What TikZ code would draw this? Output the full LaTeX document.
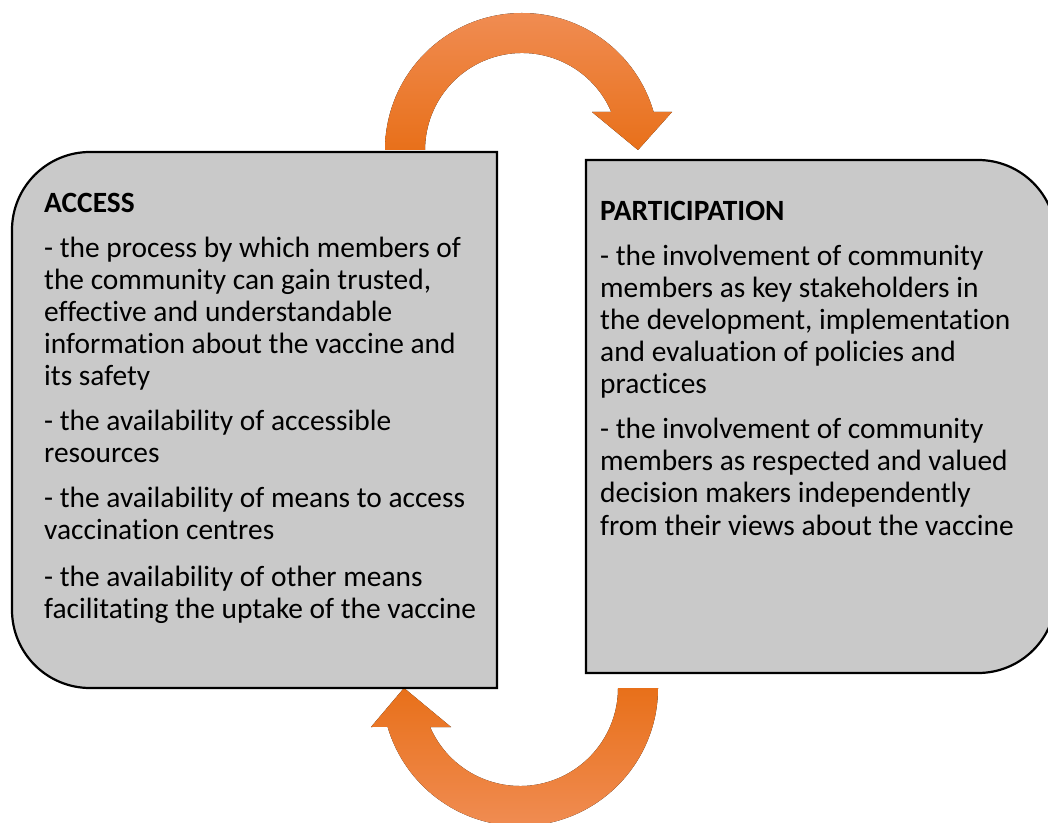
\documentclass[tikz,border=0pt]{standalone}
\usepackage{fontspec}
\setmainfont{Carlito}[Ligatures={NoCommon}]
\begin{document}
\begin{tikzpicture}[x=1pt,y=1pt,
  panel/.style={fill={rgb,255:red,201;green,201;blue,201}, draw=black, line width=2.2pt, line join=miter},
  loop/.style={top color={rgb,255:red,240;green,140;blue,82}, bottom color={rgb,255:red,232;green,112;blue,26}, draw=none},
  loopup/.style={top color={rgb,255:red,232;green,112;blue,26}, bottom color={rgb,255:red,240;green,140;blue,82}, draw=none},
  heading/.style={anchor=base west, inner sep=0pt, font=\fontsize{29.4}{32}\selectfont\bfseries},
  line/.style={anchor=base west, inner sep=0pt, font=\fontsize{29.4}{32}\selectfont}]
\useasboundingbox (0,0) rectangle (1048,822);
\clip (0,0) rectangle (1048,822);

% curved arrow from ACCESS over to PARTICIPATION
\fill[loop] (385,672) arc[start angle=180, end angle=16.11, radius=137]
  -- (672,710) -- (638,672) -- (592,710) -- (611.3,710)
  arc[start angle=23.06, end angle=180, radius=97] -- cycle;

% curved arrow from PARTICIPATION back to ACCESS
\fill[loopup] (658,134) arc[start angle=0, end angle=-163.6, radius=138]
  -- (371,95) -- (404,134) -- (451,95) -- (430.1,95)
  arc[start angle=-156.55, end angle=0, radius=98] -- cycle;

% ACCESS panel, rounded on the left side
\draw[panel] (497,670) -- (90,670) arc[start angle=90, end angle=180, radius=78]
  -- (12,212) arc[start angle=180, end angle=270, radius=78] -- (497,134) -- cycle;

% PARTICIPATION panel, rounded on the right side
\draw[panel] (586,662) -- (978,662) arc[start angle=90, end angle=0, radius=78]
  -- (1056,227) arc[start angle=0, end angle=-90, radius=78] -- (586,149) -- cycle;

% ACCESS text
\node[heading] (ah) at (44,609) {ACCESS};
\node[line] (a1) at (44,564) {- the process by which members of};
\node[line] (a2) at (44,532) {the community can gain trusted,};
\node[line] (a3) at (44,500) {effective and understandable};
\node[line] (a4) at (44,468) {information about the vaccine and};
\node[line] (a5) at (44,436) {its safety};
\node[line] (a6) at (44,391) {- the availability of accessible};
\node[line] (a7) at (44,359) {resources};
\node[line] (a8) at (44,314) {- the availability of means to access};
\node[line] (a9) at (44,282) {vaccination centres};
\node[line] (a10) at (44,236) {- the availability of other means};
\node[line] (a11) at (44,204) {facilitating the uptake of the vaccine};

% PARTICIPATION text
\node[heading] (ph) at (600,601) {PARTICIPATION};
\node[line] (p1) at (600,556) {- the involvement of community};
\node[line] (p2) at (600,524) {members as key stakeholders in};
\node[line] (p3) at (600,492) {the development, implementation};
\node[line] (p4) at (600,460) {and evaluation of policies and};
\node[line] (p5) at (600,428) {practices};
\node[line] (p6) at (600,383) {- the involvement of community};
\node[line] (p7) at (600,351) {members as respected and valued};
\node[line] (p8) at (600,319) {decision makers independently};
\node[line] (p9) at (600,287) {from their views about the vaccine};
\end{tikzpicture}
\end{document}
